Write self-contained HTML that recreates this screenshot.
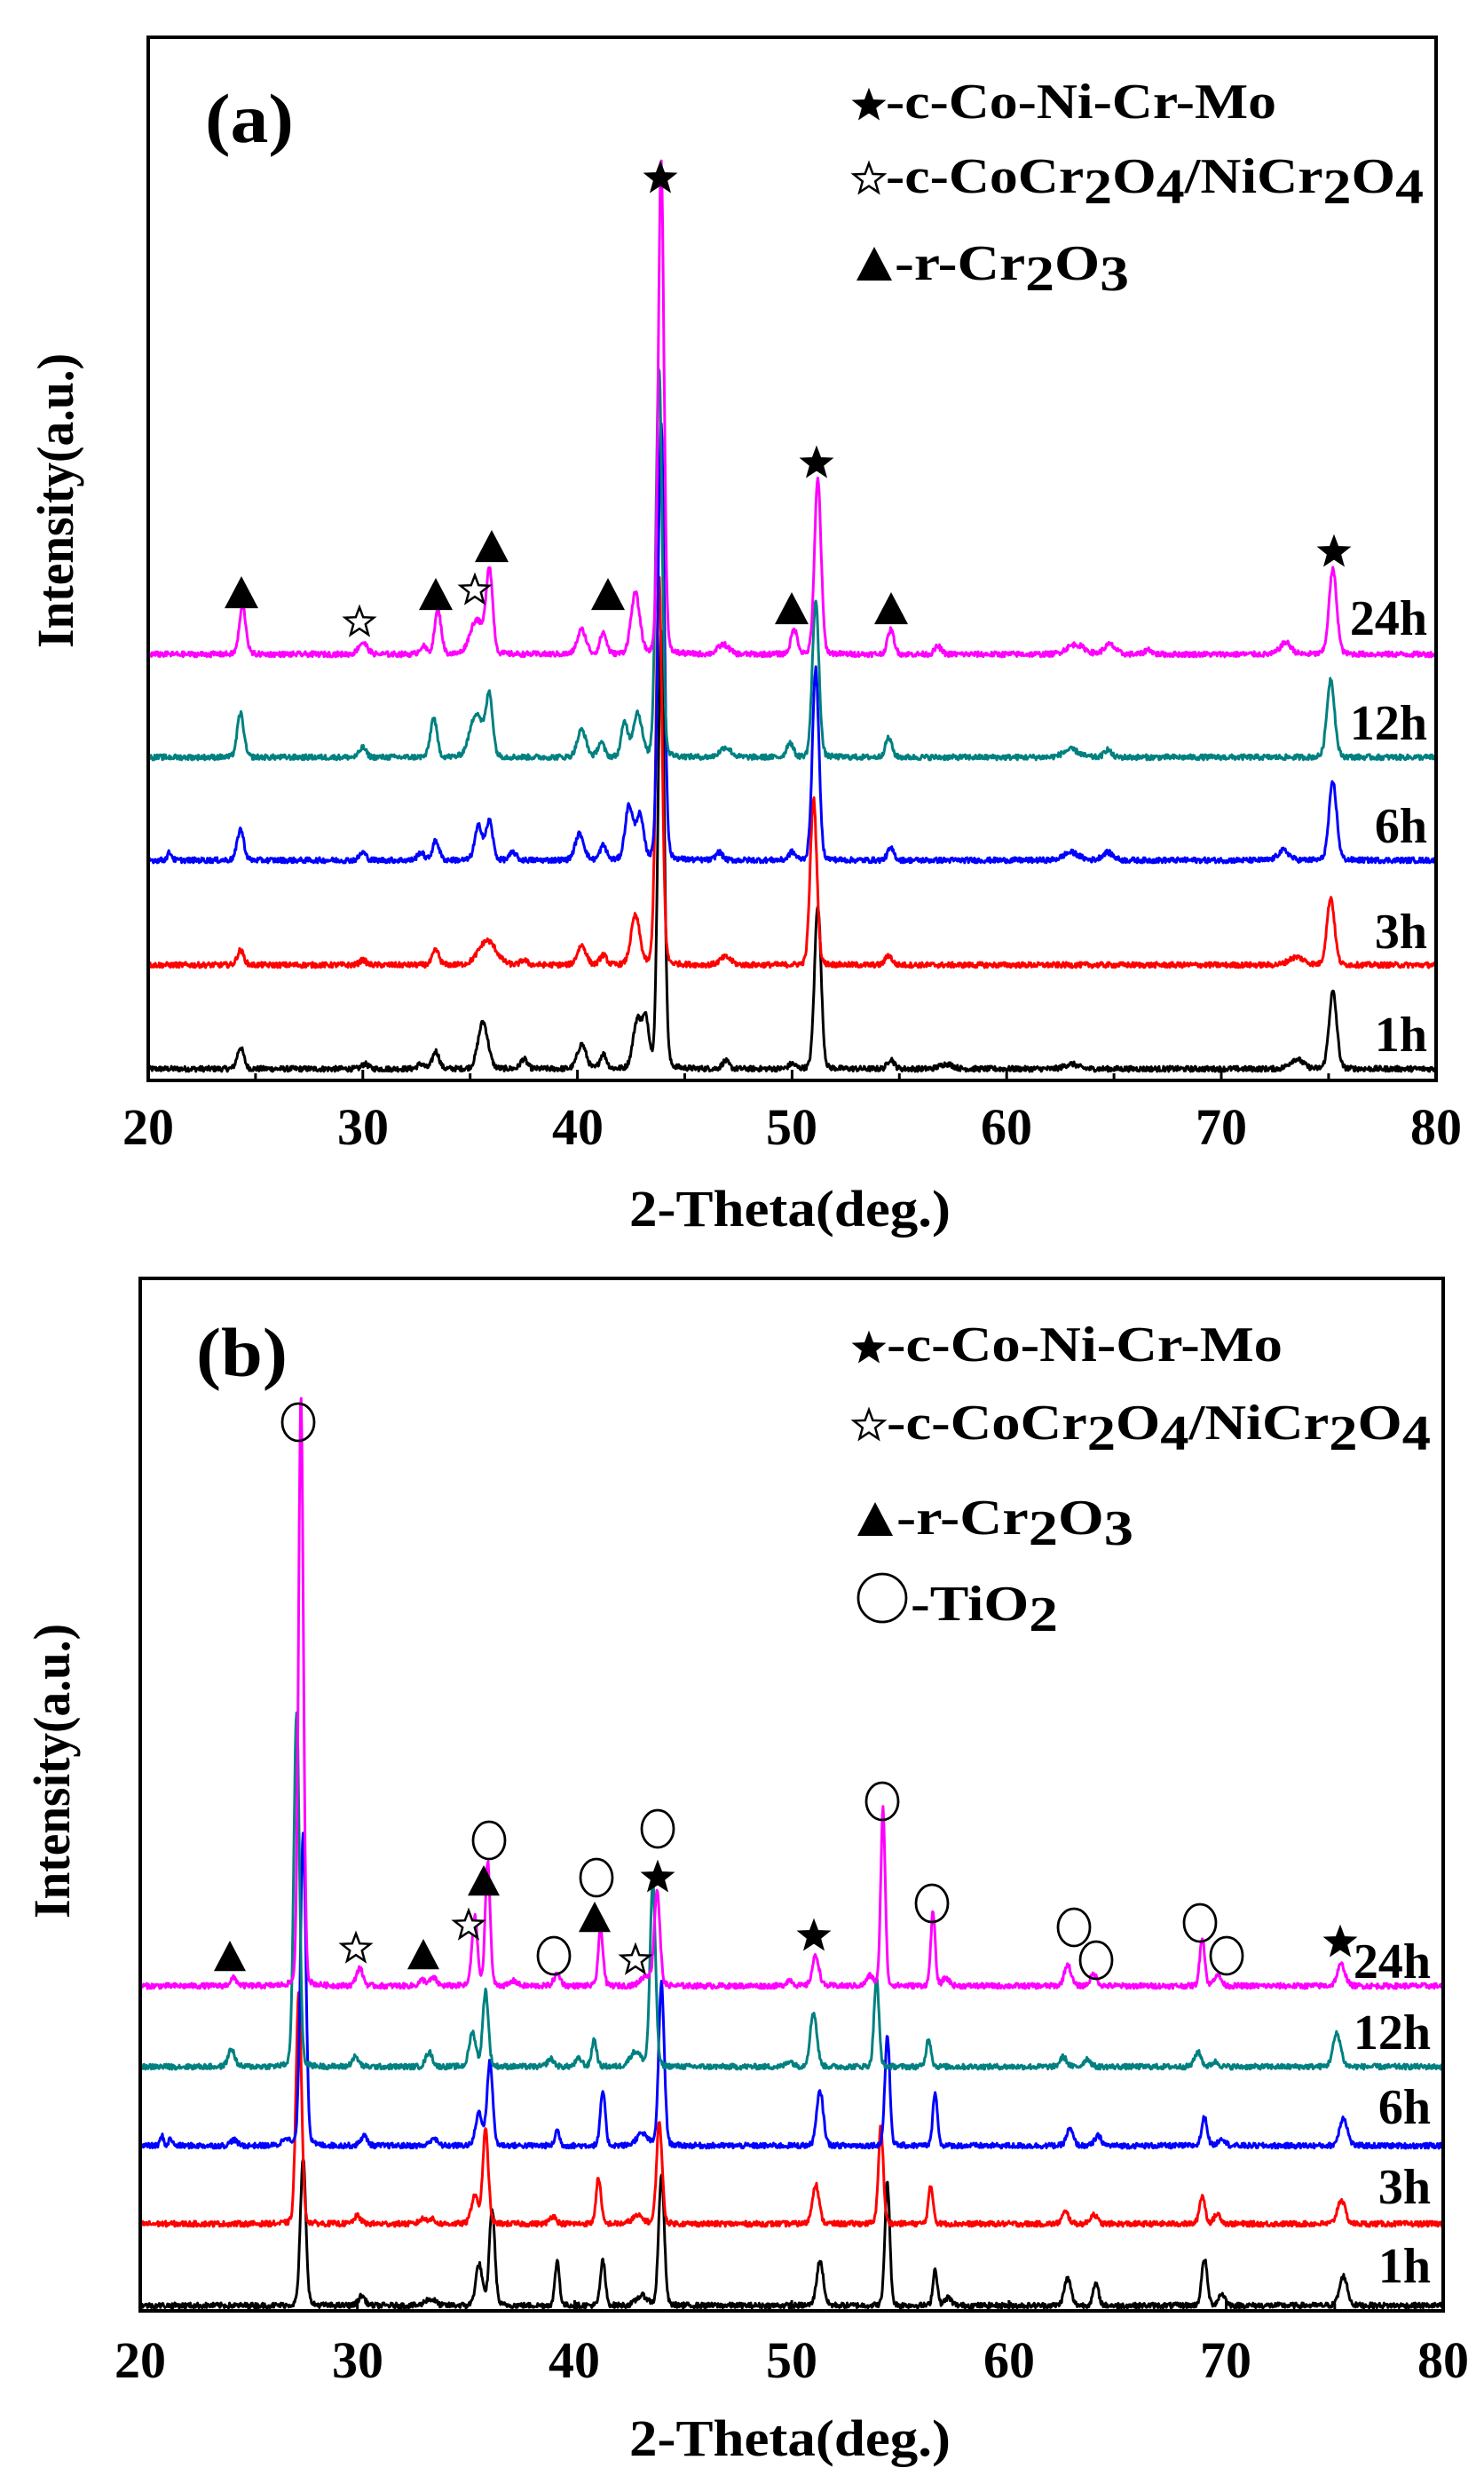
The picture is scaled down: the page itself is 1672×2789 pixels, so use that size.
<!DOCTYPE html>
<html><head><meta charset="utf-8">
<style>
html,body{margin:0;padding:0;background:#fff;}
svg{display:block;}
text{font-family:"Liberation Serif","DejaVu Serif",serif;font-weight:bold;fill:#000;}
</style></head>
<body>
<svg id="s" width="1672" height="2789" viewBox="0 0 1672 2789" xmlns="http://www.w3.org/2000/svg">
<rect width="1672" height="2789" fill="#fff"/>
<g id="curves"></g>
<g id="marks"></g>
<rect x="167" y="42" width="1451" height="1175" fill="none" stroke="#000" stroke-width="4"/>
<rect x="158" y="1440" width="1468" height="1163" fill="none" stroke="#000" stroke-width="4"/>
<g id="ticks"></g>

<text x="231" y="160" font-size="78" textLength="100" lengthAdjust="spacingAndGlyphs">(a)</text>
<text x="998" y="133" font-size="56" textLength="440" lengthAdjust="spacingAndGlyphs">-c-Co-Ni-Cr-Mo</text>
<text x="998" y="217" font-size="56" textLength="606" lengthAdjust="spacingAndGlyphs">-c-CoCr<tspan dy="12">2</tspan><tspan dy="-12">O</tspan><tspan dy="12">4</tspan><tspan dy="-12">/NiCr</tspan><tspan dy="12">2</tspan><tspan dy="-12">O</tspan><tspan dy="12">4</tspan></text>
<text x="1008" y="315" font-size="56" textLength="264" lengthAdjust="spacingAndGlyphs">-r-Cr<tspan dy="12">2</tspan><tspan dy="-12">O</tspan><tspan dy="12">3</tspan></text>
<g font-size="56" text-anchor="end">
<text x="1608" y="715">24h</text>
<text x="1608" y="833">12h</text>
<text x="1608" y="949">6h</text>
<text x="1608" y="1068">3h</text>
<text x="1608" y="1184">1h</text>
</g>
<g font-size="58" text-anchor="middle">
<text x="167" y="1289">20</text><text x="409" y="1289">30</text><text x="651" y="1289">40</text>
<text x="892" y="1289">50</text><text x="1134" y="1289">60</text><text x="1376" y="1289">70</text><text x="1618" y="1289">80</text>
<text x="890" y="1381" textLength="362" lengthAdjust="spacingAndGlyphs">2-Theta(deg.)</text>
<text transform="translate(82,564) rotate(-90)" textLength="332" lengthAdjust="spacingAndGlyphs">Intensity(a.u.)</text>
</g>

<text x="221" y="1550" font-size="78" textLength="103" lengthAdjust="spacingAndGlyphs">(b)</text>
<text x="999" y="1533" font-size="56" textLength="446" lengthAdjust="spacingAndGlyphs">-c-Co-Ni-Cr-Mo</text>
<text x="999" y="1621" font-size="56" textLength="613" lengthAdjust="spacingAndGlyphs">-c-CoCr<tspan dy="12">2</tspan><tspan dy="-12">O</tspan><tspan dy="12">4</tspan><tspan dy="-12">/NiCr</tspan><tspan dy="12">2</tspan><tspan dy="-12">O</tspan><tspan dy="12">4</tspan></text>
<text x="1010" y="1728" font-size="56" textLength="267" lengthAdjust="spacingAndGlyphs">-r-Cr<tspan dy="12">2</tspan><tspan dy="-12">O</tspan><tspan dy="12">3</tspan></text>
<text x="1026" y="1825" font-size="56" textLength="166" lengthAdjust="spacingAndGlyphs">-TiO<tspan dy="12">2</tspan></text>
<g font-size="56" text-anchor="end">
<text x="1612" y="2228">24h</text>
<text x="1612" y="2308">12h</text>
<text x="1612" y="2392">6h</text>
<text x="1612" y="2482">3h</text>
<text x="1612" y="2571">1h</text>
</g>
<g font-size="58" text-anchor="middle">
<text x="158" y="2678">20</text><text x="403" y="2678">30</text><text x="647" y="2678">40</text>
<text x="892" y="2678">50</text><text x="1137" y="2678">60</text><text x="1381" y="2678">70</text><text x="1626" y="2678">80</text>
<text x="890" y="2766" textLength="362" lengthAdjust="spacingAndGlyphs">2-Theta(deg.)</text>
<text transform="translate(78,1995) rotate(-90)" textLength="332" lengthAdjust="spacingAndGlyphs">Intensity(a.u.)</text>
</g>
</svg>
<script>
(function(){
var NS="http://www.w3.org/2000/svg";
var seed=12345;function rnd(){seed=(seed*1103515245+12345)%2147483648;return seed/2147483648;}
function el(tag,attrs,parent){var e=document.createElementNS(NS,tag);for(var k in attrs)e.setAttribute(k,attrs[k]);parent.appendChild(e);return e;}
var curves=document.getElementById('curves'),marks=document.getElementById('marks'),ticks=document.getElementById('ticks');
function series(peaks,base,x0,ppd,color){
  var d="";var L=4*Math.LN2;
  for(var t=20;t<=80.001;t+=0.03){
    var y=0;
    for(var i=0;i<peaks.length;i++){var p=peaks[i];var w=(p[2]||0.3)*1.2;var z=(t-p[0])/w;y+=p[1]*Math.exp(-L*z*z)+p[1]*0.1/(1+4*z*z);}
    y+= (rnd()-0.5)*6;
    var X=x0+(t-20)*ppd, Y=base-y;
    d+=(d?"L":"M")+X.toFixed(1)+" "+Y.toFixed(1);
  }
  el('path',{d:d,fill:'none',stroke:color,'stroke-width':3,'stroke-linejoin':'round'},curves);
}
var ax=167,ap=24.18;
series([[24.3,22],[30.1,5],[32.7,5],[33.4,18],[35.6,48,0.45],[37.5,10],[40.2,25,0.4],[41.2,15],[42.8,50,0.4],[43.2,45,0.3],[43.9,450,0.28],[46.9,8],[50,5],[51.2,168,0.3],[54.6,10],[57.2,5,0.6],[63,5,0.6],[73.5,10,0.6],[75.2,79,0.35]],1204,ax,ap,'#000');
series([[24.3,15],[30,5],[33.4,15],[35.8,25,0.8],[37.5,5],[40.2,20,0.4],[41.2,10],[42.7,50,0.4],[43.8,400,0.28],[46.9,8,0.5],[51,171,0.3],[54.5,10],[73.5,8,0.7],[75.1,69,0.35]],1087,ax,ap,'#ff0000');
series([[21,8,0.2],[24.3,32],[30,8],[32.7,8],[33.4,20],[35.4,35,0.35],[35.9,40,0.3],[37,8],[40.1,27,0.4],[41.2,15],[42.4,55,0.35],[42.9,45,0.35],[43.9,450,0.28],[46.6,8],[50,8],[51.1,196,0.3],[54.6,12],[63,8,0.7],[64.7,8,0.5],[72.9,10,0.5],[75.2,80,0.35]],969,ax,ap,'#0000ff');
series([[24.3,45],[30,10],[33.3,40],[35.3,45,0.6],[35.9,60,0.3],[40.2,28,0.4],[41.1,15],[42.2,35],[42.8,45,0.4],[43.8,400,0.28],[46.9,10,0.5],[49.9,15],[51.1,160,0.3],[54.5,20],[63,8,0.7],[64.7,8],[75.1,80,0.35]],853,ax,ap,'#008080');
series([[24.4,49],[30,12,0.4],[32.8,8],[33.5,45],[35.3,35,0.6],[35.9,85,0.3],[40.2,25,0.4],[41.2,22],[42.7,62,0.4],[43.9,505,0.26],[46.8,10,0.5],[50.1,25],[51.2,179,0.3],[54.6,25],[56.8,8],[63.2,10,0.8],[64.8,10,0.5],[66.6,5],[73,12,0.5],[75.2,87,0.35]],737,ax,ap,'#ff00ff');
var bx=158,bp=24.47;
series([[27.5,150,0.25],[30.2,10],[33.2,5],[33.5,5],[35.6,42],[36.2,99,0.25],[39.2,46,0.2],[41.3,46,0.22],[43.1,10,0.5],[44,135,0.25],[51.3,46,0.3],[54.4,126,0.22],[56.6,37,0.2],[57.2,8],[62.7,28],[64,22,0.25],[69,48,0.25],[69.8,12],[75.4,30,0.35]],2597,bx,bp,'#000');
series([[27.3,237,0.25],[30,8],[33,5],[33.4,5],[35.4,29],[35.9,96,0.25],[39,8],[41.1,47,0.22],[42.9,8,0.5],[43.9,105,0.25],[51.1,41,0.3],[54.1,100,0.22],[56.4,38,0.22],[62.6,12],[63.9,10],[68.9,29,0.25],[69.6,10],[75.3,25,0.35]],2505,bx,bp,'#ff0000');
series([[21,10,0.15],[21.4,8,0.15],[24.3,6],[26.7,8],[27.5,321,0.25],[30.3,10],[33.5,8],[35.6,34],[36.1,87,0.25],[39.2,16,0.2],[41.3,56,0.22],[43.1,12,0.5],[44,166,0.25],[51.3,56,0.3],[54.4,113,0.22],[56.6,56,0.2],[62.8,17],[64.1,10],[69,29,0.25],[69.8,8],[75.4,29,0.35]],2417,bx,bp,'#0000ff');
series([[24.2,18],[27.2,361,0.25],[29.9,10],[33.3,15],[35.3,35],[35.9,78,0.25],[38.9,8],[40.2,8],[40.9,28,0.22],[42.8,15,0.5],[43.6,189,0.25],[49.9,6],[51,56,0.3],[53.9,91,0.22],[56.3,29,0.22],[62.5,10],[63.6,8],[68.7,15],[69.5,5],[75.1,34,0.35]],2328,bx,bp,'#008080');
series([[24.3,8],[27.4,602,0.22],[30.1,18],[33,6],[33.5,8],[35.4,71,0.25],[36,128,0.22],[37.2,5],[39.2,12],[41.2,58,0.22],[43.3,10,0.5],[43.8,97,0.25],[49.9,6],[51.1,31,0.3],[53.6,10],[54.2,182,0.2],[56.5,75,0.2],[57.1,8],[62.7,22],[63.9,12],[68.9,50,0.22],[69.6,12],[75.3,22,0.35]],2237,bx,bp,'#ff00ff');

function tk(x0,ppd,yb){for(var d=25;d<80;d+=5){var X=x0+(d-20)*ppd;el('line',{x1:X,y1:yb,x2:X,y2:yb-(d%10==0?12:8),stroke:'#000','stroke-width':3},ticks);}}
tk(ax,ap,1217);tk(bx,bp,2603);

function star(cx,cy,r,filled){var pts=[];for(var i=0;i<10;i++){var a=-Math.PI/2+i*Math.PI/5;var rr=i%2?r*0.42:r;pts.push((cx+rr*Math.cos(a)).toFixed(1)+","+(cy+rr*Math.sin(a)).toFixed(1));}
 el('polygon',{points:pts.join(' '),fill:filled?'#000':'#fff',stroke:'#000','stroke-width':filled?1:2.5},marks);}
function tri(cx,cy,s){el('polygon',{points:(cx-s/2)+","+(cy+s*0.45)+" "+(cx+s/2)+","+(cy+s*0.45)+" "+cx+","+(cy-s*0.5),fill:'#000'},marks);}
function circ(cx,cy,rx,ry){el('ellipse',{cx:cx,cy:cy,rx:rx,ry:ry,fill:'none',stroke:'#000','stroke-width':2.8},marks);}
tri(272,668,38);star(405,701,17,false);tri(491,670,38);star(535,665,17,false);tri(554,616,38);tri(685,670,38);
star(744,201,19,true);tri(892,686,38);star(920,522,19,true);tri(1004,686,38);star(1503,622,19,true);
star(979,119,19,true);star(979,202,18,false);tri(985,298,40);
circ(336,1602,18,21);tri(259,2204,36);star(401,2195,17,false);tri(477,2202,36);star(528,2169,17,false);
circ(551,2073,18,21);tri(545,2119,36);circ(624,2203,18,21);circ(672,2115,18,21);tri(670,2160,36);
star(716,2208,17,false);circ(741,2060,18,21);star(741,2115,19,true);star(917,2181,19,true);
circ(994,2029,18,21);circ(1050,2144,18,21);circ(1210,2171,18,21);circ(1235,2208,18,21);
circ(1352,2166,18,21);circ(1382,2203,18,21);star(1510,2188,19,true);
star(979,1519,19,true);star(979,1606,18,false);tri(986,1712,40);circ(994,1800,27,27);
})();
</script>
</body></html>
